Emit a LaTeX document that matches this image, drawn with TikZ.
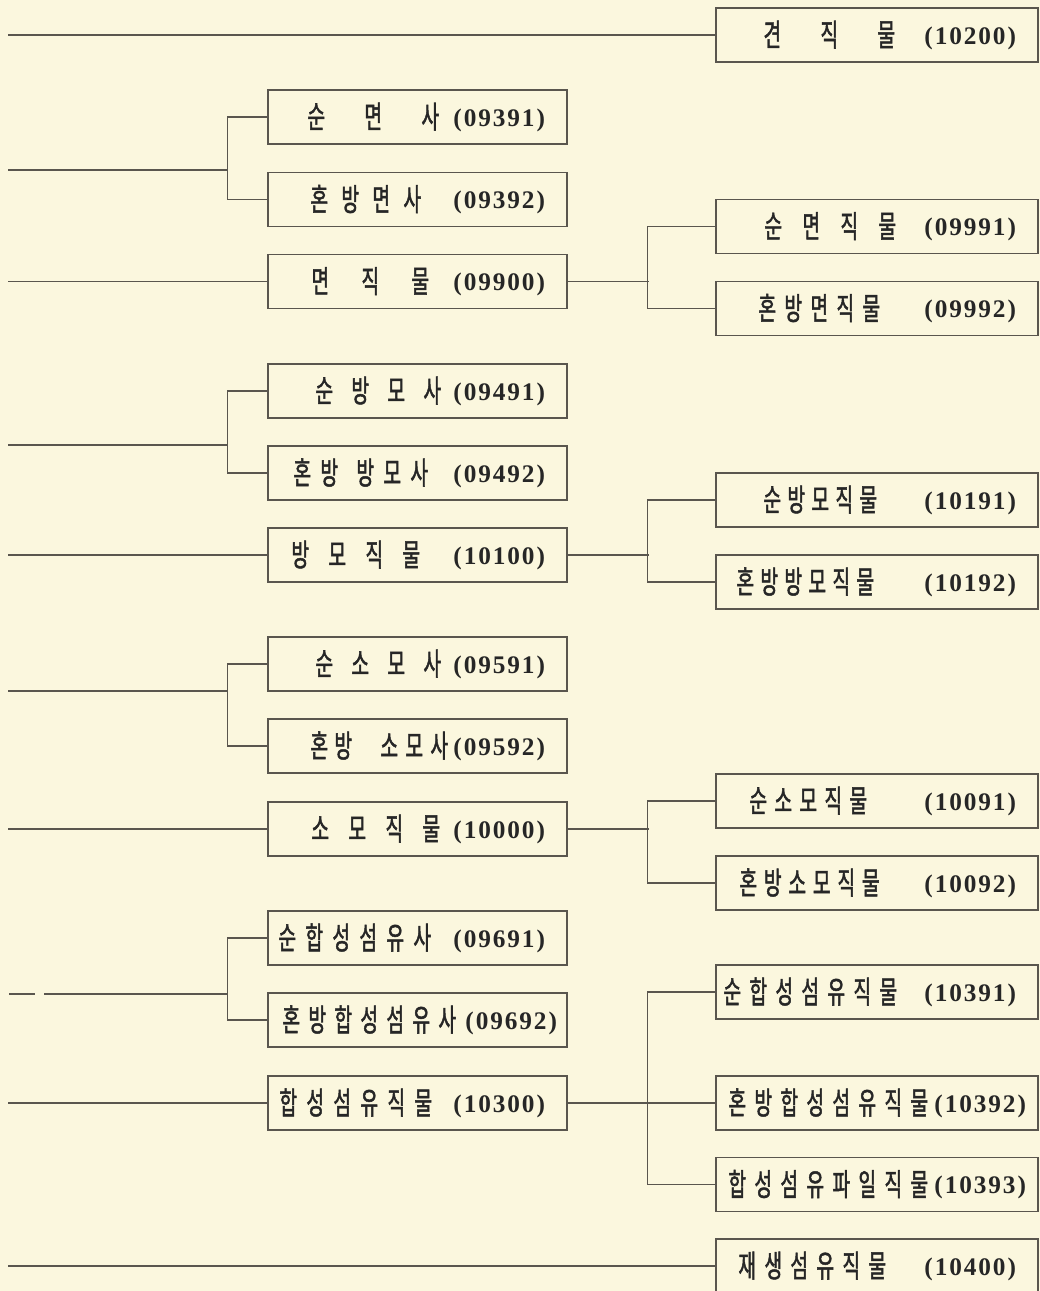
\documentclass[tikz,border=0pt]{standalone}
\usepackage{fontspec}
\usetikzlibrary{positioning}
\usetikzlibrary{calc}

\newfontfamily\kr[FakeStretch=0.62, FakeBold=1.5]{Noto Sans CJK KR}
\newfontfamily\nf[LetterSpace=7.5]{Liberation Serif}
\definecolor{paper}{RGB}{251,247,222}
\definecolor{ink}{RGB}{90,86,78}
\newlength{\px}
\setlength{\px}{0.025cm}
% spaced hangul: pitch, then the letters
\newcommand{\krow}[2]{\foreach \c in {#2}{\makebox[#1\px][l]{\raisebox{-2\px}{\c}}}}
\newcommand{\code}[1]{{\nf\fontsize{18}{18}\selectfont\bfseries #1}}
% label text ends near the right side of the box
\newcommand{\ltxt}[1]{\makebox[0pt][r]{#1\kern-127.5\px}}
\newcommand{\rtxt}[1]{\makebox[0pt][r]{#1\kern-139\px}}

\begin{document}
\begin{tikzpicture}[x=0.025cm, y=-0.025cm,
    lbox/.style={draw=ink, line width=0.8pt, minimum width=7.475cm, minimum height=1.35cm,
      inner sep=0pt, text=black!85, font=\kr\fontsize{22}{22}\selectfont},
    rbox/.style={lbox, minimum width=8.05cm},
    wire/.style={draw=ink, line width=0.8pt}]

      % Paper
      \fill[paper] (0,0) rectangle (1040,1291);
      \useasboundingbox (0,0) rectangle (1040,1291);

      % Silk fabric
      \node[rbox] (kjm) at (877,35) {\rtxt{\krow{57}{견,직,물}\hspace{-10\px}\code{(10200)}}};
      \coordinate (s0) at (8,35);
      \draw[wire] (s0) -- (kjm.west);

      % Cotton yarn and fabric
      \node[lbox] (ms1) at (417.5,117) {\ltxt{\krow{57}{순,면,사}\hspace{-25\px}\code{(09391)}}};
      \node[lbox] (ms2) at (417.5,199.5) {\ltxt{\krow{31}{혼,방,면,사}\hspace{19\px}\code{(09392)}}};
      \node[lbox] (mj) at (417.5,281.5) {\ltxt{\krow{50}{면,직,물}\hspace{-8\px}\code{(09900)}}};
      \node[rbox] (mj1) at (877,226.5) {\rtxt{\krow{38}{순,면,직,물}\hspace{8\px}\code{(09991)}}};
      \node[rbox] (mj2) at (877,308.5) {\rtxt{\krow{26}{혼,방,면,직,물}\hspace{36\px}\code{(09992)}}};
      \coordinate (s1) at (8,170);
      \coordinate (j1) at (228,170);
      \coordinate (s2) at (8,281.5);
      \draw[wire] (ms1.west) -- ++(-40,0) |- (ms2.west);
      \draw[wire] (s1) -- (j1);
      \draw[wire] (s2) -- (mj.west);
      \draw[wire] (mj.east) -- ++(81,0);
      \draw[wire] (mj1.west) -- ++(-68,0) |- (mj2.west);

      % Carded wool yarn and fabric
      \node[lbox] (by1) at (417.5,391) {\ltxt{\krow{36}{순,방,모,사}\hspace{-6\px}\code{(09491)}}};
      \node[lbox] (by2) at (417.5,473) {\ltxt{\krow{27}{혼,방}\hspace{9\px}\krow{27}{방,모,사}\hspace{16\px}\code{(09492)}}};
      \node[lbox] (bj) at (417.5,555) {\ltxt{\krow{37}{방,모,직,물}\hspace{14\px}\code{(10100)}}};
      \node[rbox] (bj1) at (877,500) {\rtxt{\krow{24}{순,방,모,직,물}\hspace{41\px}\code{(10191)}}};
      \node[rbox] (bj2) at (877,582) {\rtxt{\krow{24}{혼,방,방,모,직,물}\hspace{44\px}\code{(10192)}}};
      \coordinate (s3) at (8,445);
      \coordinate (j3) at (228,445);
      \coordinate (s4) at (8,555);
      \draw[wire] (by1.west) -- ++(-40,0) |- (by2.west);
      \draw[wire] (s3) -- (j3);
      \draw[wire] (s4) -- (bj.west);
      \draw[wire] (bj.east) -- ++(81,0);
      \draw[wire] (bj1.west) -- ++(-68,0) |- (bj2.west);

      % Worsted yarn and fabric
      \node[lbox] (sy1) at (417.5,664) {\ltxt{\krow{36}{순,소,모,사}\hspace{-6\px}\code{(09591)}}};
      \node[lbox] (sy2) at (417.5,746) {\ltxt{\krow{24}{혼,방}\hspace{22\px}\krow{25}{소,모,사}\hspace{-2\px}\code{(09592)}}};
      \node[lbox] (sj) at (417.5,829) {\ltxt{\krow{37}{소,모,직,물}\hspace{-6\px}\code{(10000)}}};
      \node[rbox] (sj1) at (877,801) {\rtxt{\krow{25}{순,소,모,직,물}\hspace{50\px}\code{(10091)}}};
      \node[rbox] (sj2) at (877,883) {\rtxt{\krow{24.5}{혼,방,소,모,직,물}\hspace{38\px}\code{(10092)}}};
      \coordinate (s5) at (8,691);
      \coordinate (j5) at (228,691);
      \coordinate (s6) at (8,829);
      \draw[wire] (sy1.west) -- ++(-40,0) |- (sy2.west);
      \draw[wire] (s5) -- (j5);
      \draw[wire] (s6) -- (sj.west);
      \draw[wire] (sj.east) -- ++(81,0);
      \draw[wire] (sj1.west) -- ++(-68,0) |- (sj2.west);

      % Synthetic yarn and fabric
      \node[lbox] (hy1) at (417.5,938) {\ltxt{\krow{27}{순,합,성,섬,유,사}\hspace{13\px}\code{(09691)}}};
      \node[lbox] (hy2) at (417.5,1020) {\ltxt{\krow{26}{혼,방,합,성,섬,유,사}\hspace{1\px}\code{(09692)}\kern-12\px}};
      \node[lbox] (hj) at (417.5,1103) {\ltxt{\krow{27}{합,성,섬,유,직,물}\hspace{12\px}\code{(10300)}}};
      \node[rbox] (hj1) at (877,992) {\rtxt{\krow{26}{순,합,성,섬,유,직,물}\hspace{19\px}\code{(10391)}}};
      \node[rbox] (hj2) at (877,1103) {\rtxt{\krow{26}{혼,방,합,성,섬,유,직,물}\hspace{-2\px}\code{(10392)}\kern-10\px}};
      \node[rbox] (hj3) at (877,1184.5) {\rtxt{\krow{26}{합,성,섬,유,파,일,직,물}\hspace{-2\px}\code{(10393)}\kern-10\px}};
      \coordinate (s7) at (9,994);
      \coordinate (j7) at (228,994);
      \coordinate (s8) at (8,1103);
      \draw[wire] (hy1.west) -- ++(-40,0) |- (hy2.west);
      \draw[wire, dash pattern=on 0.65cm off 0.225cm on 6cm] (s7) -- (j7);
      \draw[wire] (s8) -- (hj.west);
      \draw[wire] (hj.east) -- (hj2.west);
      \draw[wire] (hj1.west) -- ++(-68,0) |- (hj3.west);

      % Regenerated fibre fabric
      \node[rbox] (jj) at (877,1266) {\rtxt{\krow{26}{재,생,섬,유,직,물}\hspace{30\px}\code{(10400)}}};
      \coordinate (s9) at (8,1266);
      \draw[wire] (s9) -- (jj.west);
\end{tikzpicture}
\end{document}
